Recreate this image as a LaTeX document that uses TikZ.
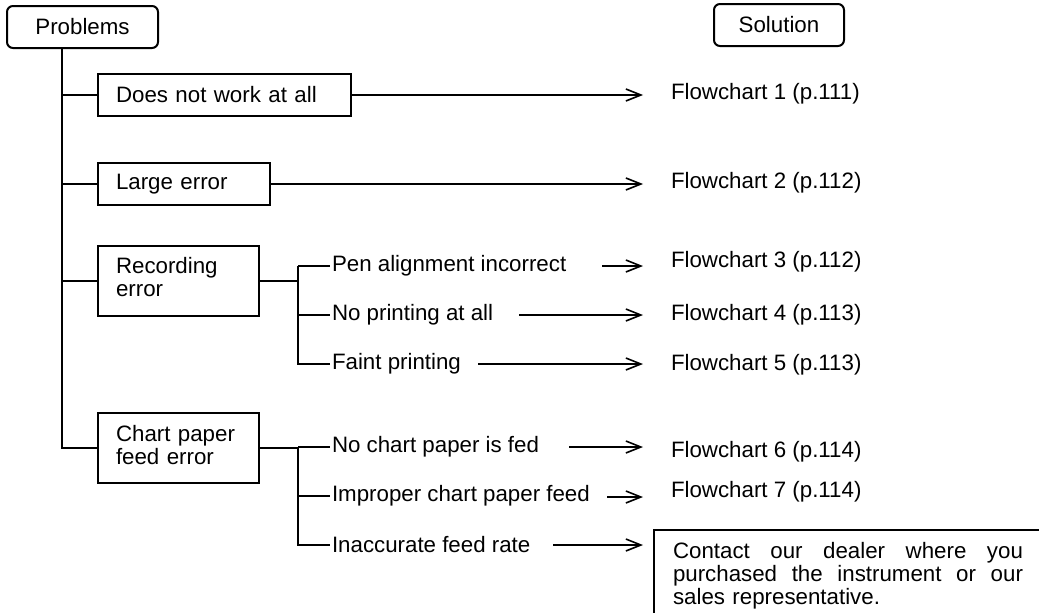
\documentclass[tikz,border=0pt]{standalone}
\usepackage{fontspec}
\setmainfont{Liberation Sans}
\usetikzlibrary{arrows.meta}
\begin{document}
\begin{tikzpicture}[x=1pt,y=-1pt,
  font=\fontsize{22.3}{23}\selectfont,
  line width=2pt,
  box/.style={draw, rectangle, align=left, inner xsep=18pt, inner ysep=0pt, anchor=north west},
  head/.style={draw, rounded corners=6pt, minimum height=42pt, inner sep=0pt, anchor=north west},
  item/.style={anchor=west, inner xsep=1pt, inner ysep=0pt},
  sol/.style={anchor=west, inner sep=3pt},
  arr/.style={-{Straight Barb[length=15pt,width=12pt,line width=1.6pt]}, line width=1.6pt},
  link/.style={line width=2pt}]
\useasboundingbox (0,0) rectangle (1039,613);
\clip (0,0) rectangle (1039,613);

% headers
\node[head, minimum width=151pt] (prob) at (6,5) {Problems};
\node[head, minimum width=130pt] (solh) at (713,3) {Solution};

% problem boxes
\node[box, text width=217pt, minimum height=42pt] (b1) at (97,73) {Does not work at all};
\node[box, text width=136pt, minimum height=42pt] (b2) at (97,162) {Large error};
\node[box, text width=125pt, minimum height=70pt] (b3) at (97,245) {Recording\\error\\[-15pt]\mbox{}};
\node[box, text width=125pt, minimum height=70pt] (b4) at (97,412) {Chart paper\\feed error\\[-17pt]\mbox{}};

% sub items
\node[item] (i1) at (330,266) {Pen alignment incorrect};
\node[item] (i2) at (330,315) {No printing at all};
\node[item] (i3) at (330,364) {Faint printing};
\node[item] (i4) at (330,447) {No chart paper is fed};
\node[item] (i5) at (330,496) {Improper chart paper feed};
\node[item] (i6) at (330,545) {Inaccurate feed rate};

% solutions
\node[sol] (f1) at (667,94) {Flowchart 1 (p.111)};
\node[sol] (f2) at (667,183) {Flowchart 2 (p.112)};
\node[sol] (f3) at (667,262) {Flowchart 3 (p.112)};
\node[sol] (f4) at (667,315) {Flowchart 4 (p.113)};
\node[sol] (f5) at (667,365) {Flowchart 5 (p.113)};
\node[sol] (f6) at (667,452) {Flowchart 6 (p.114)};
\node[sol] (f7) at (667,492) {Flowchart 7 (p.114)};
\node[draw, anchor=north west, text width=350pt, inner xsep=19pt, inner ysep=12pt,
      align=left] (c) at (653,529)
  {\makebox[350pt][s]{Contact\hfill our\hfill dealer\hfill where\hfill you}\\
   \makebox[350pt][s]{purchased\hfill the\hfill instrument\hfill or\hfill our}\\
   sales representative.\\[6pt]};

% tree lines
\coordinate (trunk) at (62,0);
\coordinate (r1) at (298,0);
\draw[link] (prob.south -| trunk) -- (trunk |- b4.west) -- (b4.west);
\draw[link] (trunk |- b1.west) -- (b1.west);
\draw[link] (trunk |- b2.west) -- (b2.west);
\draw[link] (trunk |- b3.west) -- (b3.west);

\draw[link] (b3.east) -- (b3.east -| r1);
\draw[link] (r1 |- i1.west) -- (r1 |- i3.west) -- (i3.west);
\draw[link] (r1 |- i1.west) -- (i1.west);
\draw[link] (r1 |- i2.west) -- (i2.west);

\draw[link] (b4.east) -- (b4.east -| r1);
\draw[link] (r1 |- i4.west) -- (r1 |- i6.west) -- (i6.west);
\draw[link] (r1 |- i4.west) -- (i4.west);
\draw[link] (r1 |- i5.west) -- (i5.west);

% arrows
\coordinate (a1) at (602,266);
\coordinate (a2) at (519,315);
\coordinate (a3) at (478,364);
\coordinate (a4) at (569,447);
\coordinate (a5) at (607,497);
\coordinate (a6) at (553,545);
\draw[arr, shorten >=24pt] (b1.east) -- (b1.east -| f1.west);
\draw[arr, shorten >=24pt] (b2.east) -- (b2.east -| f2.west);
\draw[arr, shorten >=24pt] (a1) -- (a1 -| f3.west);
\draw[arr, shorten >=24pt] (a2) -- (a2 -| f4.west);
\draw[arr, shorten >=24pt] (a3) -- (a3 -| f5.west);
\draw[arr, shorten >=24pt] (a4) -- (a4 -| f6.west);
\draw[arr, shorten >=24pt] (a5) -- (a5 -| f7.west);
\draw[arr, shorten >=10pt] (a6) -- (a6 -| c.west);
\end{tikzpicture}
\end{document}
